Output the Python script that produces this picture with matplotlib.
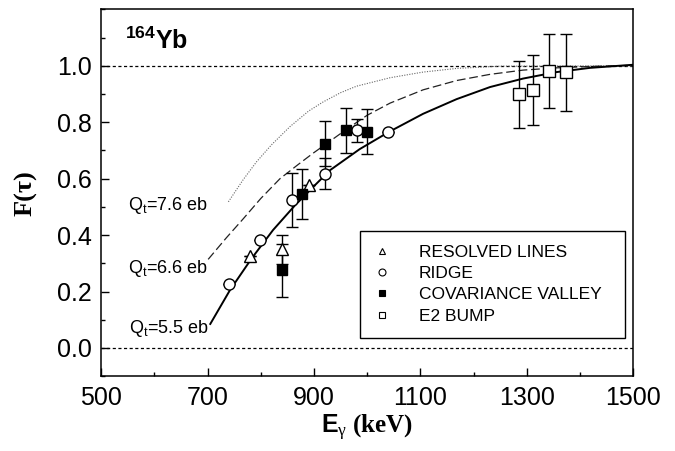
import numpy as np
import matplotlib
matplotlib.use('Agg')
import matplotlib.pyplot as plt
from matplotlib.lines import Line2D
from matplotlib.ticker import MultipleLocator, FormatStrFormatter

plt.rcParams['mathtext.fontset'] = 'custom'
plt.rcParams['mathtext.sf'] = 'Liberation Sans:bold'
plt.rcParams['mathtext.rm'] = 'Liberation Serif'
plt.rcParams['mathtext.it'] = 'Liberation Serif'

# data points (E_gamma in keV, F(tau))
resolved_E = [780, 839, 891]
resolved_F = [0.326, 0.349, 0.578]
resolved_err = [0.0, 0.05, 0.0]

ridge_E = [740, 798, 858, 920, 980, 1040]
ridge_F = [0.225, 0.382, 0.524, 0.618, 0.771, 0.765]
ridge_err = [0.0, 0.0, 0.097, 0.056, 0.04, 0.0]

covar_E = [839, 878, 920, 960, 1000]
covar_F = [0.276, 0.546, 0.724, 0.771, 0.767]
covar_err = [0.094, 0.09, 0.08, 0.081, 0.079]

bump_E = [1286, 1312, 1342, 1374]
bump_F = [0.899, 0.914, 0.982, 0.977]
bump_err = [0.12, 0.123, 0.131, 0.137]

# model curves for the three quadrupole moments
q55_E = [705, 742, 783, 823, 864, 898, 930, 986, 1040, 1105, 1168, 1231, 1293, 1356, 1419, 1500]
q55_F = [0.085, 0.205, 0.318, 0.418, 0.505, 0.57, 0.63, 0.705, 0.765, 0.83, 0.882, 0.925, 0.955, 0.978, 0.993, 1.004]

q66_E = [701, 735, 767, 800, 836, 870, 898, 930, 961, 1000, 1043, 1105, 1168, 1231, 1293, 1356, 1419, 1500]
q66_F = [0.314, 0.39, 0.458, 0.53, 0.6, 0.65, 0.69, 0.733, 0.775, 0.825, 0.868, 0.915, 0.948, 0.97, 0.985, 0.993, 0.998, 1.002]

q76_E = [739, 767, 792, 820, 855, 890, 917, 950, 980, 1043, 1105, 1168, 1250, 1500]
q76_F = [0.518, 0.597, 0.66, 0.72, 0.785, 0.84, 0.872, 0.905, 0.928, 0.958, 0.978, 0.991, 0.999, 1.0]

ref_levels = [0.0, 1.0]
x_ticks = [500, 700, 900, 1100, 1300, 1500]
y_ticks = [0.0, 0.2, 0.4, 0.6, 0.8, 1.0]

fig = plt.figure(figsize=(6.75, 4.51), dpi=100)
ax = fig.add_axes([0.150, 0.166, 0.788, 0.813])

for lvl in ref_levels:
    ax.axhline(lvl, color='black', lw=0.9, ls=(0, (2.5, 2)), zorder=1)

ax.plot(q76_E, q76_F, color='#666666', lw=0.8, ls=(0, (1, 1.3)), zorder=2)
ax.plot(q66_E, q66_F, color='#222222', lw=0.9, ls=(0, (7, 3)), zorder=2)
ax.plot(q55_E, q55_F, color='black', lw=1.4, zorder=2)

eb_kw = dict(ecolor='black', elinewidth=1.0, capsize=4.5, capthick=1.0, ls='none', zorder=3)
ax.errorbar(resolved_E, resolved_F, yerr=resolved_err, marker='^', ms=8,
            mfc='white', mec='black', mew=1.0, **eb_kw)
ax.errorbar(ridge_E, ridge_F, yerr=ridge_err, marker='o', ms=8,
            mfc='white', mec='black', mew=1.0, **eb_kw)
ax.errorbar(covar_E, covar_F, yerr=covar_err, marker='s', ms=7,
            mfc='black', mec='black', mew=1.0, **eb_kw)
ax.errorbar(bump_E, bump_F, yerr=bump_err, marker='s', ms=9,
            mfc='white', mec='black', mew=1.0, **eb_kw)

ax.set_xlim(500, 1500)
ax.set_ylim(-0.1, 1.2)
ax.set_xticks(x_ticks)
ax.xaxis.set_minor_locator(MultipleLocator(100))
ax.set_yticks(y_ticks)
ax.yaxis.set_minor_locator(MultipleLocator(0.1))
ax.yaxis.set_major_formatter(FormatStrFormatter('%.1f'))
ax.tick_params(which='both', direction='in', labelsize=18, width=1.0)
ax.tick_params(which='major', length=6, pad=7)
ax.tick_params(which='minor', length=3)
for lab in ax.get_xticklabels() + ax.get_yticklabels():
    lab.set_family('Liberation Sans')
for sp in ax.spines.values():
    sp.set_linewidth(1.1)

ax.set_xlabel(r'$\mathsf{E}_{\gamma}$ (keV)', fontsize=18, fontweight='bold',
              family='Liberation Serif', labelpad=2)
ax.set_ylabel('F(τ)', fontsize=19, fontweight='bold', family='Liberation Serif', labelpad=14)

ax.text(0.044, 0.891, r'$\mathregular{^{164}}$Yb', transform=ax.transAxes,
        fontsize=18, fontweight='bold', family='Liberation Sans', va='baseline')

q_kw = dict(fontsize=13, family='Liberation Sans', va='baseline')
ax.text(550, 0.49, r'Q$\mathregular{_t}$=7.6 eb', **q_kw)
ax.text(550, 0.264, r'Q$\mathregular{_t}$=6.6 eb', **q_kw)
ax.text(552, 0.053, r'Q$\mathregular{_t}$=5.5 eb', **q_kw)

handles = [
    Line2D([], [], ls='none', marker='^', ms=5, mfc='white', mec='black', mew=0.8),
    Line2D([], [], ls='none', marker='o', ms=5, mfc='white', mec='black', mew=0.8),
    Line2D([], [], ls='none', marker='s', ms=5, mfc='black', mec='black', mew=0.8),
    Line2D([], [], ls='none', marker='s', ms=5, mfc='white', mec='black', mew=0.8),
]
labels = ['RESOLVED LINES', 'RIDGE', 'COVARIANCE VALLEY', 'E2 BUMP']
leg = ax.legend(handles, labels, loc='upper left', bbox_to_anchor=(0.486, 0.103, 0.498, 0.293),
                mode='expand', frameon=True, fancybox=False, edgecolor='black',
                framealpha=1, handlelength=1.0, handletextpad=1.6,
                borderpad=0.8, labelspacing=0.35, borderaxespad=0,
                prop={'family': 'Liberation Sans', 'size': 12.5})
leg.get_frame().set_linewidth(1.0)

fig.savefig('out.png', dpi=100)
